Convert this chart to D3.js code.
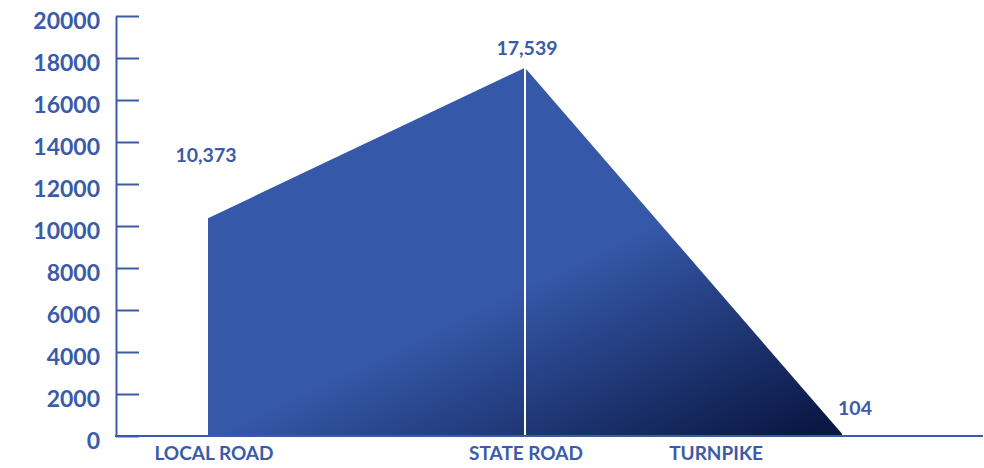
<!DOCTYPE html>
<html><head><meta charset="utf-8">
<script src="https://cdn.jsdelivr.net/npm/d3@7"></script>
<style>
html,body{margin:0;padding:0;background:#fff;}
svg{display:block;font-family:Lato,"Open Sans",sans-serif;font-weight:700;}
</style></head>
<body>
<svg id="chart" width="984" height="468"></svg>
<script>
const categories = ["LOCAL ROAD", "STATE ROAD", "TURNPIKE"];
const values = [10373, 17539, 104];
const valueLabels = ["10,373", "17,539", "104"];
const yTicks = [0, 2000, 4000, 6000, 8000, 10000, 12000, 14000, 16000, 18000, 20000];

// style / layout constants
const blue = "#3A5BA8";
const labelOffsets = [{dx: -2, dy: -56}, {dx: 2, dy: -13}, {dx: 13, dy: -19}];
const catLabelShift = [6, 1, -126];

const svg = d3.select("#chart");
const W = 984, H = 468;
const m = {left: 116, top: 16, bottom: 32};
const y = d3.scaleLinear().domain([0, 20000]).range([H - m.bottom, m.top]);
const x = d3.scalePoint().domain(categories).range([208, 842]);

const data = categories.map((c, i) => ({c, v: values[i], l: valueLabels[i]}));

// gradient
const defs = svg.append("defs");
const g = defs.append("linearGradient").attr("id", "grad")
  .attr("gradientUnits", "userSpaceOnUse")
  .attr("x1", 600).attr("y1", 250).attr("x2", 710).attr("y2", 480);
g.append("stop").attr("offset", 0).attr("stop-color", "#3558A8");
g.append("stop").attr("offset", 1).attr("stop-color", "#0A1744");

const area = d3.area().x(d => x(d.c)).y0(y(0)).y1(d => y(d.v)).curve(d3.curveLinear);
svg.append("path").datum(data).attr("d", area).attr("fill", "url(#grad)");

// white divider at middle category
svg.append("line")
  .attr("x1", x(categories[1])).attr("x2", x(categories[1]))
  .attr("y1", y(values[1])).attr("y2", y(0))
  .attr("stroke", "#fff").attr("stroke-width", 2);

// y axis
const yAxis = d3.axisLeft(y).tickValues(yTicks).tickFormat(d3.format("d"))
  .tickSizeInner(-23).tickSizeOuter(0).tickPadding(16);
const ya = svg.append("g").attr("transform", `translate(${m.left},0)`).call(yAxis);
ya.select(".domain").attr("stroke", blue).attr("stroke-width", 2);
ya.selectAll(".tick line").attr("stroke", blue).attr("stroke-width", 2);
ya.selectAll(".tick text").attr("fill", blue).style("font-size", "23px")
  .style("font-family", "Lato,sans-serif").style("font-weight", 700).attr("dy", "0.55em");

// baseline
svg.append("line").attr("x1", m.left - 1).attr("x2", 983)
  .attr("y1", y(0)).attr("y2", y(0)).attr("stroke", blue).attr("stroke-width", 2);

// category labels
svg.selectAll(".cat").data(data).enter().append("text")
  .attr("x", (d, i) => x(d.c) + catLabelShift[i]).attr("y", y(0) + 24)
  .attr("text-anchor", "middle").attr("fill", blue).style("font-size", "19px")
  .text(d => d.c);

// value labels
svg.selectAll(".val").data(data).enter().append("text")
  .attr("x", (d, i) => x(d.c) + labelOffsets[i].dx)
  .attr("y", (d, i) => y(d.v) + labelOffsets[i].dy)
  .attr("text-anchor", "middle").attr("fill", blue).style("font-size", "19.5px")
  .text(d => d.l);
</script>
</body></html>
